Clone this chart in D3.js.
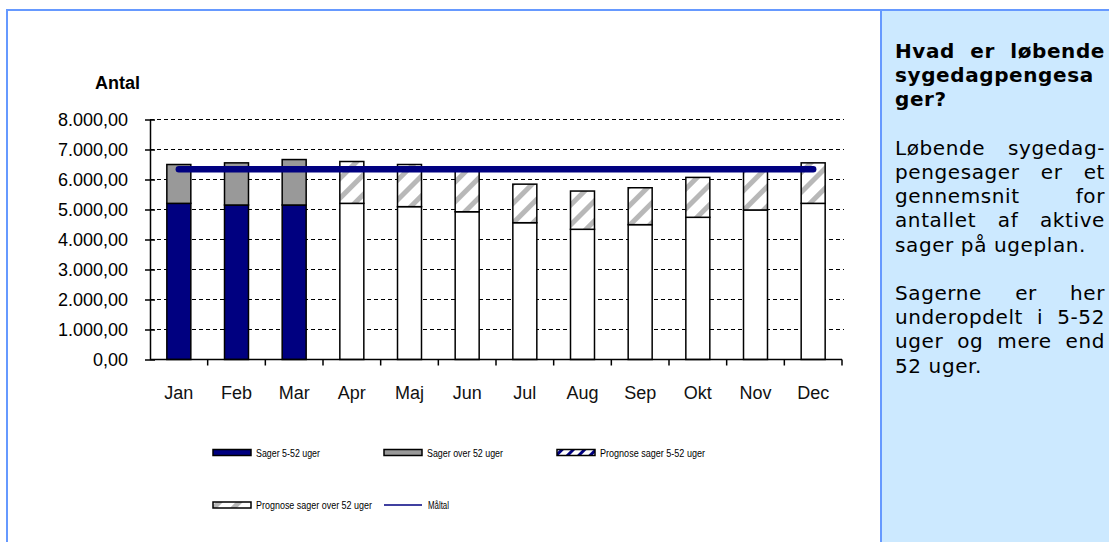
<!DOCTYPE html>
<html>
<head>
<meta charset="utf-8">
<script src="https://cdn.jsdelivr.net/npm/d3@7"></script>
<style>
    body { margin: 0; background: #fff; }
    svg { display: block; }
</style>
</head>
<body>
<div id="chart"></div>
<script>
// Chart data
let months = ["Jan", "Feb", "Mar", "Apr", "Maj", "Jun", "Jul", "Aug", "Sep", "Okt", "Nov", "Dec"];
let sager552 = [5205, 5150, 5150, 0, 0, 0, 0, 0, 0, 0, 0, 0];
let sagerOver52 = [1295, 1405, 1515, 0, 0, 0, 0, 0, 0, 0, 0, 0];
let prognose552 = [0, 0, 0, 5205, 5095, 4925, 4560, 4340, 4495, 4740, 4985, 5205];
let prognoseOver52 = [0, 0, 0, 1395, 1405, 1395, 1285, 1275, 1230, 1330, 1315, 1350];
let maaltal = [6340, 6340, 6340, 6340, 6340, 6340, 6340, 6340, 6340, 6340, 6340, 6340];
let yTicks = [0, 1000, 2000, 3000, 4000, 5000, 6000, 7000, 8000];
let seriesNames = ["Sager 5-52 uger", "Sager over 52 uger", "Prognose sager 5-52 uger",
    "Prognose sager over 52 uger", "Måltal"];

// Info panel text, one entry per line
let panelHeading = ["Hvad er løbende", "sygedagpengesa", "ger?"];
let panelBody = [
    ["Løbende sygedag-", "pengesager er et", "gennemsnit for", "antallet af aktive", "sager på ugeplan."],
    ["Sagerne er her", "underopdelt i 5-52", "uger og mere end", "52 uger."]
];

const W = 1109, H = 542;
const borderColor = "#6699ff", navy = "#000080", gray = "#999999";

let svg = d3.select("#chart").append("svg")
    .attr("width", W)
    .attr("height", H)
    .style("font-family", "'Liberation Sans', Arial, sans-serif");

// Patterns for the forecast bars
let defs = svg.append("defs");
let stripes = defs.append("pattern")
    .attr("id", "stripes")
    .attr("patternUnits", "userSpaceOnUse")
    .attr("width", 14).attr("height", 14)
    .attr("patternTransform", "rotate(45)");
stripes.append("rect").attr("width", 14).attr("height", 14).attr("fill", "#fff");
stripes.append("rect").attr("x", 0).attr("width", 5).attr("height", 14).attr("fill", "#b8b8b8");
let stripesBlue = defs.append("pattern")
    .attr("id", "stripes-blue")
    .attr("patternUnits", "userSpaceOnUse")
    .attr("width", 8).attr("height", 8)
    .attr("patternTransform", "rotate(45)");
stripesBlue.append("rect").attr("width", 8).attr("height", 8).attr("fill", "#fff");
stripesBlue.append("rect").attr("width", 3).attr("height", 8).attr("fill", navy);

// Outer frame and right info panel
svg.append("rect")
    .attr("x", 7).attr("y", 10)
    .attr("width", W + 20).attr("height", H + 20)
    .attr("fill", "#fff")
    .attr("stroke", borderColor).attr("stroke-width", 2);
svg.append("rect")
    .attr("x", 881).attr("y", 10)
    .attr("width", W).attr("height", H)
    .attr("fill", "#cce9ff")
    .attr("stroke", borderColor).attr("stroke-width", 2);

// Scales
let x = d3.scaleBand()
    .domain(months)
    .range([150, 842])
    .paddingInner(0.584)
    .paddingOuter(0.292);
let y = d3.scaleLinear()
    .domain([0, 8000])
    .range([359.5, 119.5]);

let plot = svg.append("g");

// Dashed gridlines
plot.append("g")
    .selectAll("line")
    .data(yTicks.filter(function(d) { return d > 0; }))
    .enter().append("line")
    .attr("x1", 150).attr("x2", 844)
    .attr("y1", function(d) { return y(d); })
    .attr("y2", function(d) { return y(d); })
    .attr("stroke", "#000")
    .attr("stroke-width", 1)
    .attr("stroke-dasharray", "4,3");

// Stacked bars
let rows = months.map(function(m, i) {
    return {month: m, s1: sager552[i], s2: sagerOver52[i], p1: prognose552[i], p2: prognoseOver52[i]};
});
let stack = d3.stack().keys(["s1", "s2", "p1", "p2"]);
let fills = {s1: navy, s2: gray, p1: "#fff", p2: "url(#stripes)"};

plot.append("g")
    .selectAll("g")
    .data(stack(rows))
    .enter().append("g")
    .attr("fill", function(d) { return fills[d.key]; })
    .selectAll("rect")
    .data(function(d) { return d.filter(function(v) { return v[1] - v[0] > 0; }); })
    .enter().append("rect")
    .attr("x", function(d) { return x(d.data.month); })
    .attr("width", x.bandwidth())
    .attr("y", function(d) { return y(d[1]); })
    .attr("height", function(d) { return y(d[0]) - y(d[1]); })
    .attr("stroke", "#000")
    .attr("stroke-width", 1.5);

// Target line
let line = d3.line()
    .x(function(d, i) { return x(months[i]) + x.bandwidth() / 2; })
    .y(function(d) { return y(d); });
plot.append("path")
    .datum(maaltal)
    .attr("d", line)
    .attr("fill", "none")
    .attr("stroke", navy)
    .attr("stroke-width", 6.5)
    .attr("stroke-linecap", "round");

// Y axis
let fmt = function(d) {
    return d3.format(",.2f")(d).replace(/,/g, "#").replace(".", ",").replace(/#/g, ".");
};
let yAxis = plot.append("g")
    .attr("transform", "translate(150,0)")
    .call(d3.axisLeft(y).tickValues(yTicks).tickFormat(fmt).tickSizeInner(5).tickSizeOuter(0));
yAxis.select(".domain").attr("stroke-width", 1.5);
yAxis.selectAll(".tick line").attr("x2", 5).attr("x1", -5).attr("stroke-width", 1.5);
yAxis.selectAll(".tick text")
    .attr("x", -22)
    .attr("font-size", 18)
    .attr("font-family", "'Liberation Sans', Arial, sans-serif")
    .attr("fill", "#000");

// X axis with ticks at category boundaries
let step = x.step();
plot.append("line")
    .attr("x1", 150).attr("x2", 842)
    .attr("y1", y(0)).attr("y2", y(0))
    .attr("stroke", "#000").attr("stroke-width", 1.5);
plot.append("g")
    .selectAll("line")
    .data(d3.range(1, months.length + 1))
    .enter().append("line")
    .attr("x1", function(k) { return 150 + k * step; })
    .attr("x2", function(k) { return 150 + k * step; })
    .attr("y1", y(0)).attr("y2", y(0) + 6)
    .attr("stroke", "#000").attr("stroke-width", 1.5);
plot.append("g")
    .selectAll("text")
    .data(months)
    .enter().append("text")
    .attr("x", function(d) { return x(d) + x.bandwidth() / 2; })
    .attr("y", 399)
    .attr("text-anchor", "middle")
    .attr("font-size", 18)
    .attr("fill", "#111")
    .text(function(d) { return d; });

// Axis title
svg.append("text")
    .attr("x", 95).attr("y", 89)
    .attr("font-size", 18)
    .attr("font-weight", "bold")
    .text("Antal");

// Legend
let legendItems = [
    {name: seriesNames[0], x: 213, y: 452.5, fill: navy, w: 64},
    {name: seriesNames[1], x: 384, y: 452.5, fill: gray, w: 76},
    {name: seriesNames[2], x: 557, y: 452.5, fill: "url(#stripes-blue)", w: 105},
    {name: seriesNames[3], x: 213, y: 505, fill: "url(#stripes)", w: 116},
    {name: seriesNames[4], x: 384, y: 505, line: true, w: 21}
];
let legend = svg.append("g")
    .selectAll("g")
    .data(legendItems)
    .enter().append("g")
    .attr("transform", function(d) { return `translate(${d.x},${d.y})`; });
legend.filter(function(d) { return !d.line; })
    .append("rect")
    .attr("x", 0).attr("y", -3)
    .attr("width", 38).attr("height", 6)
    .attr("fill", function(d) { return d.fill; })
    .attr("stroke", "#000").attr("stroke-width", 1.5);
legend.filter(function(d) { return d.line; })
    .append("line")
    .attr("x1", 0).attr("x2", 38)
    .attr("stroke", navy).attr("stroke-width", 1.5);
legend.append("text")
    .attr("x", function(d) { return d.line ? 44 : 43; })
    .attr("y", 4)
    .attr("font-size", 10.5)
    .attr("textLength", function(d) { return d.w; })
    .attr("lengthAdjust", "spacingAndGlyphs")
    .text(function(d) { return d.name; });

// Info panel text, justified between left and right edges
const textLeft = 895, textRight = 1105, lineH = 24.2;
let panelLines = [];
panelHeading.forEach(function(t, i) {
    panelLines.push({text: t, bold: true, justify: i === 0});
});
panelLines.push(null);
panelBody.forEach(function(par, pi) {
    par.forEach(function(t, i) {
        panelLines.push({text: t, bold: false, justify: i < par.length - 1});
    });
    if (pi < panelBody.length - 1) panelLines.push(null);
});

let panel = svg.append("g")
    .style("font-family", "'DejaVu Sans', Verdana, sans-serif")
    .style("letter-spacing", "0.6px")
    .attr("font-size", 20);
panelLines.forEach(function(l, i) {
    if (!l) return;
    let baseY = 58 + i * lineH;
    let words = l.text.split(" ");
    let nodes = words.map(function(w) {
        return panel.append("text")
            .attr("y", baseY)
            .attr("font-weight", l.bold ? "bold" : "normal")
            .attr("fill", "#000")
            .text(w);
    });
    let widths = nodes.map(function(n) { return n.node().getComputedTextLength(); });
    let gap = 0.318 * 20 + 0.6;
    if (l.justify && words.length > 1) {
        gap = (textRight - textLeft - d3.sum(widths)) / (words.length - 1);
    }
    let cx = textLeft;
    nodes.forEach(function(n, k) {
        n.attr("x", cx);
        cx += widths[k] + gap;
    });
});
</script>
</body>
</html>
